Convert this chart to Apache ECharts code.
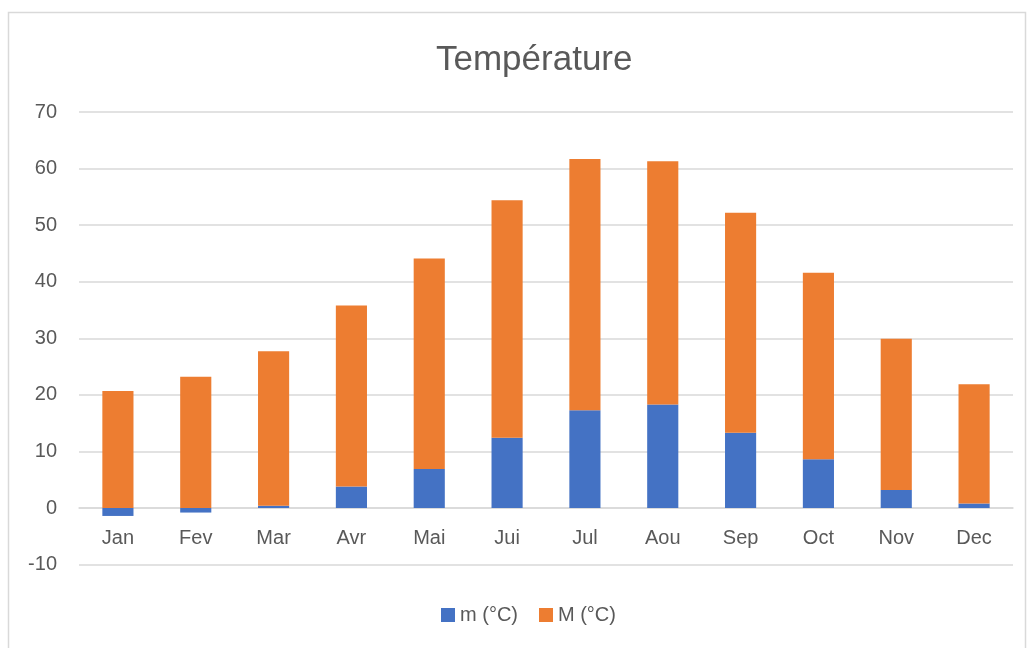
<!DOCTYPE html>
<html>
<head>
<meta charset="utf-8">
<script src="https://cdn.jsdelivr.net/npm/echarts@6/dist/echarts.min.js"></script>
<style>
  html, body { margin: 0; padding: 0; background: #fff; }
  #chart { width: 1029px; height: 648px; }
</style>
</head>
<body>
<div id="chart"></div>
<script>
// données
const mois = ["Jan", "Fev", "Mar", "Avr", "Mai", "Jui", "Jul", "Aou", "Sep", "Oct", "Nov", "Dec"];
const tMin = [-1.4, -0.8, 0.4, 3.8, 6.9, 12.4, 17.3, 18.3, 13.3, 8.6, 3.2, 0.8];
const tMax = [20.7, 23.2, 27.3, 32.0, 37.2, 42.0, 44.4, 43.0, 38.9, 33.0, 26.7, 21.1];
const yTicks = { min: -10, max: 70, interval: 10 };

const grey = "#595959";
const font = "Liberation Sans";

let chart = echarts.init(document.getElementById("chart"));
let option = {
  animation: false,
  textStyle: { fontFamily: font },
  graphic: [{
    type: "rect",
    shape: { x: 8.5, y: 12.5, width: 1017, height: 660 },
    style: { fill: null, stroke: "#d9d9d9", lineWidth: 1.5 }
  }],
  title: {
    text: "Température",
    left: 431,
    top: 38,
    textStyle: { fontFamily: font, fontSize: 35, fontWeight: "normal", color: grey }
  },
  legend: {
    bottom: 18,
    left: 436,
    itemWidth: 14,
    itemHeight: 14,
    itemGap: 21,
    icon: "rect",
    textStyle: { fontFamily: font, fontSize: 20, color: grey }
  },
  grid: { left: 79, right: 16, top: 112, bottom: 83.4 },
  xAxis: {
    type: "category",
    data: mois,
    offset: -56.6,  // étiquettes sous la ligne du zéro
    axisLine: { onZero: false, lineStyle: { color: "#d9d9d9", width: 1.5 } },
    axisTick: { show: false },
    axisLabel: { fontFamily: font, fontSize: 20, color: grey, margin: 20 }
  },
  yAxis: {
    type: "value",
    min: yTicks.min,
    max: yTicks.max,
    interval: yTicks.interval,
    axisLine: { show: false },
    axisTick: { show: false },
    axisLabel: { fontFamily: font, fontSize: 20, color: grey, margin: 22 },
    splitLine: { lineStyle: { color: "#d9d9d9", width: 1.5 } }
  },
  series: [
    {
      name: "m (°C)",
      type: "bar",
      stack: "t",
      data: tMin,
      barCategoryGap: "60%",
      itemStyle: { color: "#4472C4" }
    },
    {
      name: "M (°C)",
      type: "bar",
      stack: "t",
      data: tMax,
      barCategoryGap: "60%",
      itemStyle: { color: "#ED7D31" }
    }
  ]
};
chart.setOption(option);
</script>
</body>
</html>
